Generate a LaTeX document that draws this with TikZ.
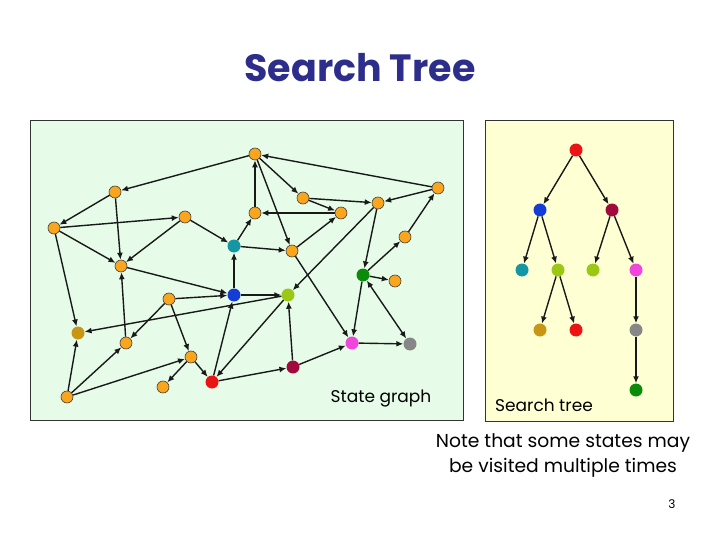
\documentclass[tikz,border=0pt]{standalone}
\usepackage{fontspec}
\setmainfont{Poppins}
\usetikzlibrary{arrows.meta,positioning}

\definecolor{stOrange}{RGB}{250,165,30}
\definecolor{stTeal}{RGB}{20,150,165}
\definecolor{stBlue}{RGB}{20,60,215}
\definecolor{stLime}{RGB}{155,200,20}
\definecolor{stGold}{RGB}{200,150,20}
\definecolor{stPink}{RGB}{240,70,220}
\definecolor{stGray}{RGB}{135,135,135}
\definecolor{stMaroon}{RGB}{160,10,60}
\definecolor{stRed}{RGB}{235,20,20}
\definecolor{stGreen}{RGB}{10,140,10}
\definecolor{graphBg}{RGB}{230,252,232}
\definecolor{treeBg}{RGB}{255,255,212}
\definecolor{titleBlue}{RGB}{45,45,140}

\begin{document}
\begin{tikzpicture}[x=1pt, y=-1pt,
  orn/.style={circle, draw=black!75, line width=0.6pt, fill=stOrange, minimum size=12pt, inner sep=0pt},
  col/.style={circle, fill=#1, minimum size=13pt, inner sep=0pt},
  ed/.style={-{Latex[length=7pt,width=6pt]}, line width=1.4pt, black!90},
  both/.style={{Latex[length=7pt,width=6pt]}-{Latex[length=7pt,width=6pt]}, line width=1.4pt, black!90},
  panel/.style={draw=black!80, line width=0.8pt},
  lab/.style={font=\fontsize{17}{19}\selectfont, inner sep=0pt}]
\useasboundingbox[fill=white] (0,0) rectangle (720,540);
\node[font=\bfseries\fontsize{38}{42}\selectfont, text=titleBlue] (title) at (360,68) {Search Tree};
\draw[panel, fill=graphBg] (30,120) rectangle (463,420);
\draw[panel, fill=treeBg] (485,120) rectangle (673,421);
% state graph
\node[orn] (g1) at (255,154) {};
\node[orn] (g2) at (115,192) {};
\node[orn] (g3) at (303,198) {};
\node[orn] (g4) at (378,203) {};
\node[orn] (g5) at (438,188) {};
\node[orn] (g6) at (54,228) {};
\node[orn] (g7) at (185,217) {};
\node[orn] (g8) at (255,213) {};
\node[orn] (g9) at (341,213) {};
\node[col=stTeal] (teal) at (234,246) {};
\node[orn] (g11) at (292,251) {};
\node[orn] (g12) at (405,237) {};
\node[orn] (g13) at (121,266) {};
\node[col=stGreen] (green) at (363,275) {};
\node[orn] (g15) at (395,281) {};
\node[orn] (g16) at (169,299) {};
\node[col=stBlue] (blue) at (234,295) {};
\node[col=stLime] (lime) at (288,295) {};
\node[col=stGold] (gold) at (78,333) {};
\node[orn] (g20) at (126,343) {};
\node[orn] (g21) at (191,357) {};
\node[col=stPink] (pink) at (352,343) {};
\node[col=stGray] (gray) at (410,344) {};
\node[col=stMaroon] (maroon) at (293,367) {};
\node[col=stRed] (red) at (212,382) {};
\node[orn] (g26) at (163,387) {};
\node[orn] (g27) at (67,397) {};
\draw[ed] (g1) -- (g2); \draw[ed] (g2) -- (g6); \draw[ed] (g2) -- (g13); \draw[ed] (g6) -- (g7);
\draw[ed] (g6) -- (g13); \draw[ed] (g6) -- (gold); \draw[ed] (g7) -- (g13); \draw[ed] (g7) -- (teal);
\draw[ed] (g5) -- (g1); \draw[ed] (g1) -- (g3); \draw[ed] (g8) -- (g1); \draw[ed] (g1) -- (g11);
\draw[ed] (g3) -- (g4); \draw[ed] (g3) -- (g9); \draw[ed] (g5) -- (g4); \draw[ed] (g12) -- (g5);
\draw[ed] (g9) -- (g8); \draw[ed] (g11) -- (g9); \draw[ed] (teal) -- (g8); \draw[ed] (teal) -- (g11);
\draw[ed] (g4) -- (green); \draw[ed] (g4) -- (lime); \draw[ed] (green) -- (g12); \draw[ed] (green) -- (g15);
\draw[ed] (green) -- (pink); \draw[both] (green) -- (gray); \draw[ed] (pink) -- (gray); \draw[ed] (g11) -- (pink);
\draw[ed] (maroon) -- (pink); \draw[ed] (maroon) -- (lime); \draw[ed] (red) -- (maroon); \draw[ed] (red) -- (blue);
\draw[ed] (blue) -- (teal); \draw[ed] (blue) -- (lime); \draw[ed] (lime) -- (gold); \draw[ed] (lime) -- (red);
\draw[ed] (g13) -- (blue); \draw[ed] (g16) -- (blue); \draw[ed] (g16) -- (g21); \draw[ed] (g16) -- (g20);
\draw[ed] (g20) -- (g13); \draw[ed] (g21) -- (red); \draw[ed] (g21) -- (g26); \draw[ed] (g27) -- (g21);
\draw[ed] (g27) -- (gold); \draw[ed] (g27) -- (g20);
\node[lab] (sglab) at (381,399) {State graph};
% search tree
\node[col=stRed] (tRoot) at (576,150) {};
\node[col=stBlue, below left=60pt and 36pt of tRoot.center, anchor=center] (tBlue) {};
\node[col=stMaroon, below right=60pt and 36pt of tRoot.center, anchor=center] (tMaroon) {};
\node[col=stTeal, below left=60pt and 18pt of tBlue.center, anchor=center] (tTeal) {};
\node[col=stLime, below right=60pt and 18pt of tBlue.center, anchor=center] (tLime) {};
\node[col=stLime, below left=60pt and 19pt of tMaroon.center, anchor=center] (tLime2) {};
\node[col=stPink, below right=60pt and 24pt of tMaroon.center, anchor=center] (tPink) {};
\node[col=stGold, below left=60pt and 18pt of tLime.center, anchor=center] (tGold) {};
\node[col=stRed, below right=60pt and 18pt of tLime.center, anchor=center] (tRed) {};
\node[col=stGray, below=60pt of tPink.center, anchor=center] (tGray) {};
\node[col=stGreen, below=60pt of tGray.center, anchor=center] (tGreen) {};
\draw[ed] (tRoot) -- (tBlue); \draw[ed] (tRoot) -- (tMaroon);
\draw[ed] (tBlue) -- (tTeal); \draw[ed] (tBlue) -- (tLime);
\draw[ed] (tMaroon) -- (tLime2); \draw[ed] (tMaroon) -- (tPink);
\draw[ed] (tLime) -- (tGold); \draw[ed] (tLime) -- (tRed);
\draw[ed] (tPink) -- (tGray); \draw[ed] (tGray) -- (tGreen);
\node[lab] (stlab) at (544,405) {Search tree};
\node[font=\fontsize{18.7}{25}\selectfont, align=center] (note) at (563,456) {Note that some states may\\be visited multiple times};
\node[font=\fontsize{12}{14}\selectfont] (pgno) at (672,504) {3};
\end{tikzpicture}
\end{document}
